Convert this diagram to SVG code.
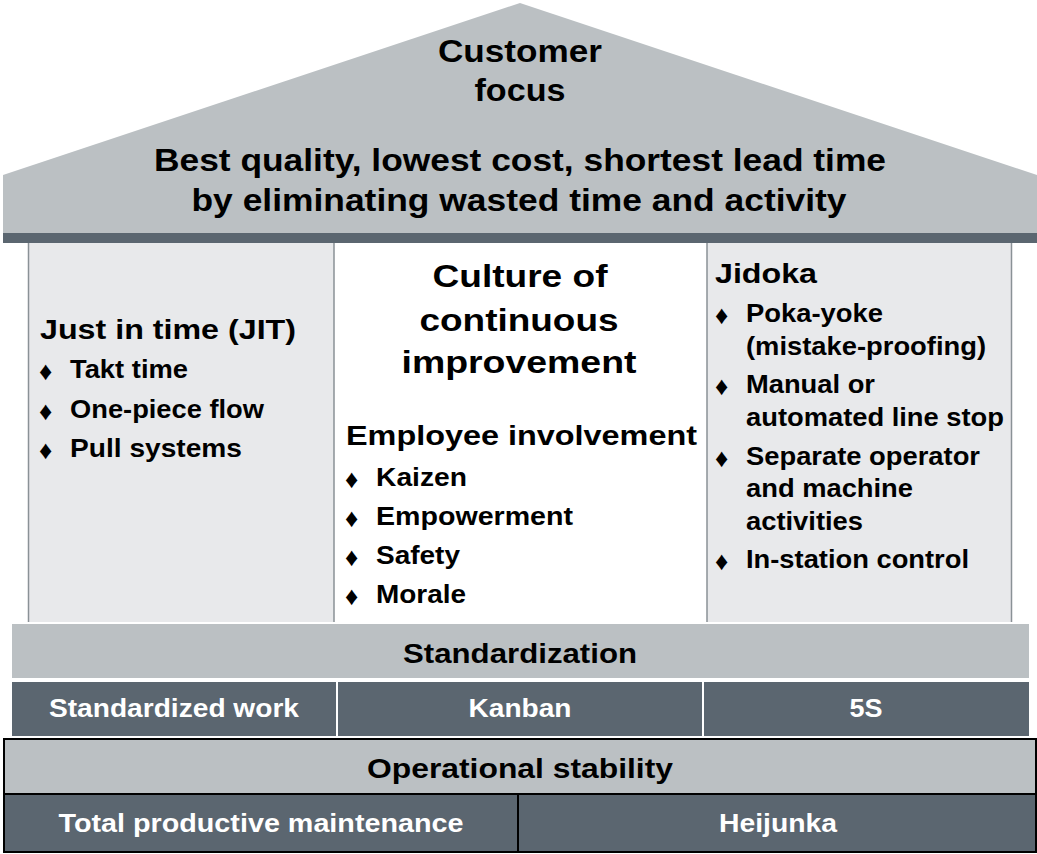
<svg xmlns="http://www.w3.org/2000/svg" width="1037" height="854" viewBox="0 0 1037 854">
<style>
.t{font-family:"Liberation Sans",Arial,sans-serif;font-weight:bold;fill:#000}
.w{fill:#fff}
.c{text-anchor:middle}
.b{font-family:"Liberation Sans","DejaVu Sans",sans-serif;font-size:26px;fill:#000}
.lt{fill:#BBC0C3}
.dk{fill:#5B6670}
.pl{fill:#E8E9EB}
.edge{stroke:#8A9196;stroke-width:1.5;fill:none}
</style>
<rect x="0" y="0" width="1037" height="854" fill="#fff"/>

<g id="roof">
  <polygon class="lt" points="3,175 520,3 1037,175 1037,233 3,233"/>
  <rect class="dk" x="3" y="233" width="1034" height="10"/>
  <text class="t c" x="520" y="62" font-size="31" textLength="164" lengthAdjust="spacingAndGlyphs">Customer</text>
  <text class="t c" x="520" y="101" font-size="31" textLength="91" lengthAdjust="spacingAndGlyphs">focus</text>
  <text class="t c" x="520" y="171" font-size="30.5" textLength="732" lengthAdjust="spacingAndGlyphs">Best quality, lowest cost, shortest lead time</text>
  <text class="t c" x="519" y="211" font-size="30.5" textLength="655" lengthAdjust="spacingAndGlyphs">by eliminating wasted time and activity</text>
</g>

<g id="pillar-jit">
  <rect class="pl" x="28" y="243" width="306" height="379"/>
  <line class="edge" x1="28.5" y1="243" x2="28.5" y2="622"/>
  <line class="edge" x1="334" y1="243" x2="334" y2="622"/>
  <text class="t" x="40" y="339" font-size="28" textLength="256" lengthAdjust="spacingAndGlyphs">Just in time (JIT)</text>
  <text class="b" x="39" y="380">♦</text>
  <text class="t" x="70" y="378" font-size="25" textLength="118" lengthAdjust="spacingAndGlyphs">Takt time</text>
  <text class="b" x="39" y="420">♦</text>
  <text class="t" x="70" y="418" font-size="25" textLength="194" lengthAdjust="spacingAndGlyphs">One-piece flow</text>
  <text class="b" x="39" y="459">♦</text>
  <text class="t" x="70" y="457" font-size="25" textLength="172" lengthAdjust="spacingAndGlyphs">Pull systems</text>
</g>

<g id="pillar-culture">
  <text class="t c" x="520" y="287" font-size="32" textLength="175" lengthAdjust="spacingAndGlyphs">Culture of</text>
  <text class="t c" x="519" y="331" font-size="32" textLength="199" lengthAdjust="spacingAndGlyphs">continuous</text>
  <text class="t c" x="519" y="373" font-size="32" textLength="235" lengthAdjust="spacingAndGlyphs">improvement</text>
  <text class="t" x="346" y="445" font-size="28" textLength="351" lengthAdjust="spacingAndGlyphs">Employee involvement</text>
  <text class="b" x="345" y="488">♦</text>
  <text class="t" x="376" y="486" font-size="25" textLength="91" lengthAdjust="spacingAndGlyphs">Kaizen</text>
  <text class="b" x="345" y="527">♦</text>
  <text class="t" x="376" y="525" font-size="25" textLength="197" lengthAdjust="spacingAndGlyphs">Empowerment</text>
  <text class="b" x="345" y="566">♦</text>
  <text class="t" x="376" y="564" font-size="25" textLength="84" lengthAdjust="spacingAndGlyphs">Safety</text>
  <text class="b" x="345" y="605">♦</text>
  <text class="t" x="376" y="603" font-size="25" textLength="90" lengthAdjust="spacingAndGlyphs">Morale</text>
</g>

<g id="pillar-jidoka">
  <rect class="pl" x="707" y="243" width="305" height="379"/>
  <line class="edge" x1="707" y1="243" x2="707" y2="622"/>
  <line class="edge" x1="1011.5" y1="243" x2="1011.5" y2="622"/>
  <text class="t" x="715" y="283" font-size="28" textLength="102" lengthAdjust="spacingAndGlyphs">Jidoka</text>
  <text class="b" x="715" y="324">♦</text>
  <text class="t" x="746" y="322" font-size="25" textLength="137" lengthAdjust="spacingAndGlyphs">Poka-yoke</text>
  <text class="t" x="746" y="355" font-size="25" textLength="240" lengthAdjust="spacingAndGlyphs">(mistake-proofing)</text>
  <text class="b" x="715" y="395">♦</text>
  <text class="t" x="746" y="393" font-size="25" textLength="129" lengthAdjust="spacingAndGlyphs">Manual or</text>
  <text class="t" x="746" y="426" font-size="25" textLength="258" lengthAdjust="spacingAndGlyphs">automated line stop</text>
  <text class="b" x="715" y="467">♦</text>
  <text class="t" x="746" y="465" font-size="25" textLength="234" lengthAdjust="spacingAndGlyphs">Separate operator</text>
  <text class="t" x="746" y="497" font-size="25" textLength="167" lengthAdjust="spacingAndGlyphs">and machine</text>
  <text class="t" x="746" y="530" font-size="25" textLength="117" lengthAdjust="spacingAndGlyphs">activities</text>
  <text class="b" x="715" y="570">♦</text>
  <text class="t" x="746" y="568" font-size="25" textLength="223" lengthAdjust="spacingAndGlyphs">In-station control</text>
</g>

<g id="standardization">
  <rect class="lt" x="12" y="624" width="1017" height="54"/>
  <text class="t c" x="520" y="663" font-size="27" textLength="234" lengthAdjust="spacingAndGlyphs">Standardization</text>
</g>

<g id="standard-tools">
  <rect class="dk" x="12" y="682" width="1017" height="54"/>
  <rect class="w" x="336" y="682" width="2" height="54"/>
  <rect class="w" x="702" y="682" width="2" height="54"/>
  <text class="t w c" x="174" y="717" font-size="25" textLength="250" lengthAdjust="spacingAndGlyphs">Standardized work</text>
  <text class="t w c" x="520" y="717" font-size="25" textLength="103" lengthAdjust="spacingAndGlyphs">Kanban</text>
  <text class="t w c" x="866" y="717" font-size="25" textLength="33" lengthAdjust="spacingAndGlyphs">5S</text>
</g>

<g id="operational-stability">
  <rect class="lt" x="4" y="739" width="1032" height="55" stroke="#000" stroke-width="2"/>
  <text class="t c" x="520" y="778" font-size="28" textLength="306" lengthAdjust="spacingAndGlyphs">Operational stability</text>
</g>

<g id="stability-tools">
  <rect class="dk" x="4" y="794" width="1032" height="58" stroke="#000" stroke-width="2"/>
  <line x1="518" y1="794" x2="518" y2="852" stroke="#000" stroke-width="2"/>
  <text class="t w c" x="261" y="832" font-size="25" textLength="405" lengthAdjust="spacingAndGlyphs">Total productive maintenance</text>
  <text class="t w c" x="778" y="832" font-size="25" textLength="118" lengthAdjust="spacingAndGlyphs">Heijunka</text>
</g>
</svg>
